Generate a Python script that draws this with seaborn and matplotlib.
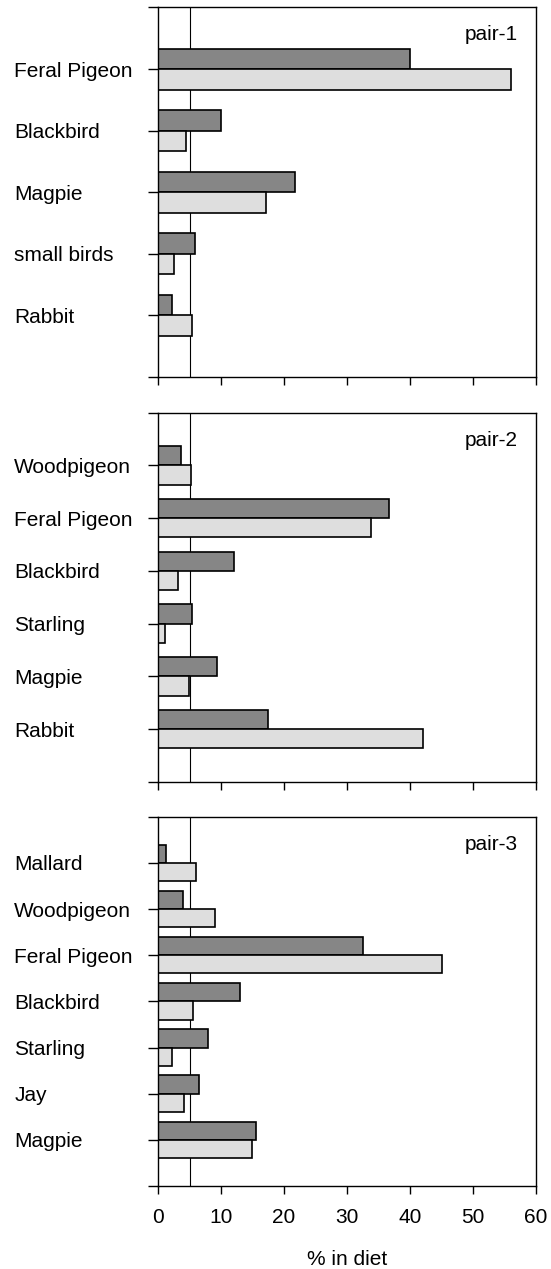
import seaborn as sns
import matplotlib.pyplot as plt
import pandas as pd

# prey categories and % in diet for each pair (two series per prey)
pair1_prey = ['Feral Pigeon', 'Blackbird', 'Magpie', 'small birds', 'Rabbit']
pair1_dark = [40.0, 10.0, 21.7, 5.8, 2.2]
pair1_light = [56.0, 4.5, 17.2, 2.5, 5.4]

pair2_prey = ['Woodpigeon', 'Feral Pigeon', 'Blackbird', 'Starling', 'Magpie', 'Rabbit']
pair2_dark = [3.7, 36.7, 12.0, 5.4, 9.3, 17.4]
pair2_light = [5.2, 33.8, 3.2, 1.1, 4.9, 42.1]

pair3_prey = ['Mallard', 'Woodpigeon', 'Feral Pigeon', 'Blackbird', 'Starling', 'Jay', 'Magpie']
pair3_dark = [1.3, 3.9, 32.5, 13.0, 7.9, 6.5, 15.6]
pair3_light = [6.0, 9.0, 45.0, 5.6, 2.2, 4.2, 14.9]

panel_titles = ['pair-1', 'pair-2', 'pair-3']
x_ticks = [0, 10, 20, 30, 40, 50, 60]
ref_line = 5

sns.set_style('ticks')
plt.rcParams['font.family'] = ['Liberation Sans', 'DejaVu Sans']
plt.rcParams['font.size'] = 15
for key in ['text.color', 'axes.labelcolor', 'xtick.color', 'ytick.color', 'axes.edgecolor']:
    plt.rcParams[key] = 'black'

fig = plt.figure(figsize=(5.51, 12.69), dpi=100)

pairs = [
    (pair1_prey, pair1_dark, pair1_light, 0.667),
    (pair2_prey, pair2_dark, pair2_light, 0.73),
    (pair3_prey, pair3_dark, pair3_light, 0.79),
]
tops = [0.9941, 0.6748, 0.3564]
height = 0.291

for i, (prey, dark, light, w) in enumerate(pairs):
    ax = fig.add_axes([0.2868, tops[i] - height, 0.686, height])
    df = pd.DataFrame({
        'prey': prey * 2,
        'value': dark + light,
        'series': ['s1'] * len(prey) + ['s2'] * len(prey),
    })
    ax.axvline(ref_line, color='black', lw=0.8, zorder=0)
    sns.barplot(data=df, x='value', y='prey', hue='series', order=prey,
                palette=['#868686', '#dedede'], edgecolor='black',
                linewidth=1.2, width=w, orient='h', legend=False, ax=ax,
                zorder=2)
    n = len(prey)
    ax.set_ylim(n, -1)
    ax.set_yticks(range(-1, n + 1))
    ax.set_yticklabels([''] + prey + [''])
    ax.set_xlim(0, 60)
    ax.set_xticks(x_ticks)
    ax.tick_params(axis='y', length=7, width=1, pad=96.5, labelsize=15)
    ax.tick_params(axis='x', length=6, width=1, pad=10, labelsize=15)
    for lab in ax.get_yticklabels():
        lab.set_horizontalalignment('left')
    for sp in ax.spines.values():
        sp.set_visible(True)
        sp.set_linewidth(1)
        sp.set_color('black')
    ax.text(0.952, 0.926, panel_titles[i], transform=ax.transAxes,
            ha='right', va='center', fontsize=15)
    ax.set_ylabel('')
    if i < 2:
        ax.set_xticklabels([])
        ax.set_xlabel('')
    else:
        ax.set_xlabel('% in diet', fontsize=15)
        ax.xaxis.set_label_coords(0.5, -0.2)
        ax.xaxis.label.set_verticalalignment('center')

fig.savefig('out.png', dpi=100)
